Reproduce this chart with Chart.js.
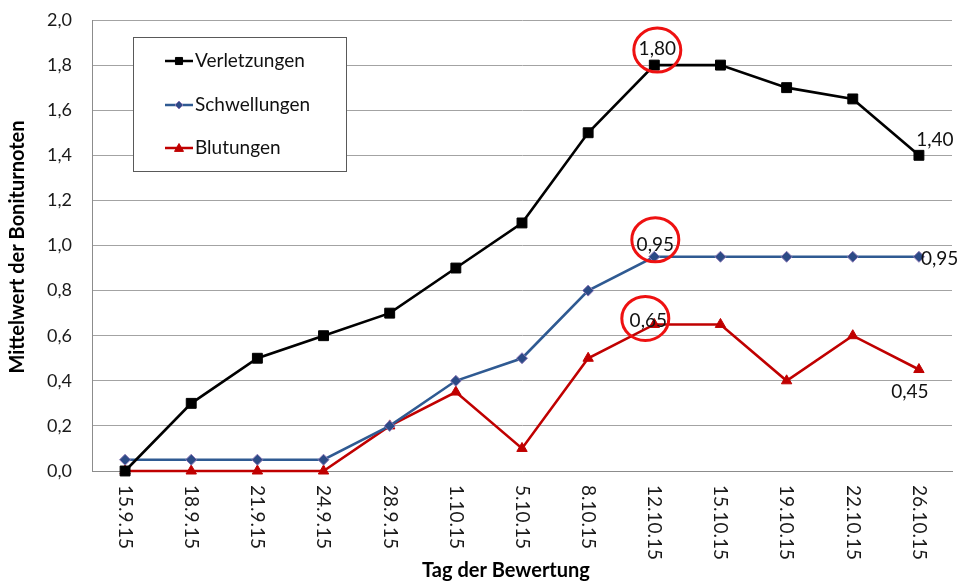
<!DOCTYPE html>
<html>
<head>
<meta charset="utf-8">
<style>
  html, body { margin: 0; padding: 0; background: #fff; }
  #wrap { width: 960px; height: 581px; }
</style>
<script src="https://cdn.jsdelivr.net/npm/chart.js@4.4.1/dist/chart.umd.min.js"></script>
</head>
<body>
<div id="wrap"><canvas id="c" width="960" height="581"></canvas></div>
<script>
// Bewertungstage
const dates = ['15.9.15', '18.9.15', '21.9.15', '24.9.15', '28.9.15', '1.10.15', '5.10.15',
               '8.10.15', '12.10.15', '15.10.15', '19.10.15', '22.10.15', '26.10.15'];

// Mittelwerte der Boniturnoten je Merkmal
const verletzungen = [0.00, 0.30, 0.50, 0.60, 0.70, 0.90, 1.10, 1.50, 1.80, 1.80, 1.70, 1.65, 1.40];
const schwellungen = [0.05, 0.05, 0.05, 0.05, 0.20, 0.40, 0.50, 0.80, 0.95, 0.95, 0.95, 0.95, 0.95];
const blutungen    = [0.00, 0.00, 0.00, 0.00, 0.20, 0.35, 0.10, 0.50, 0.65, 0.65, 0.40, 0.60, 0.45];

// y-Achse
const yMin = 0, yMax = 2.0, yStep = 0.2;

// Werte mit Beschriftung: [Datensatz, Index]
const labelled = [[0, 8], [0, 12], [1, 8], [1, 12], [2, 8], [2, 12]];
// hervorgehobene Werte (rot umkreist)
const circled = [[0, 8], [1, 8], [2, 8]];

const FONT = 'Lato, "Open Sans", "DejaVu Sans", sans-serif';
const fmt = v => v.toFixed(2).replace('.', ',');

// Lage der Wertebeschriftung relativ zum Punkt
const labelOffset = {
  '0-8':  { dx: 3,   dy: -16, align: 'center' },
  '0-12': { dx: 16,  dy: -15, align: 'center' },
  '1-8':  { dx: 1,   dy: -12, align: 'center' },
  '1-12': { dx: 2,   dy: 2,   align: 'left' },
  '2-8':  { dx: -6,  dy: -4,  align: 'center' },
  '2-12': { dx: -9,  dy: 22,  align: 'center' }
};
const circleOffset = {
  '0-8': { dx: 3,  dy: -15 },
  '1-8': { dx: 1,  dy: -17 },
  '2-8': { dx: -9, dy: -6 }
};

const series = [
  { label: 'Verletzungen', data: verletzungen, color: '#000000', fill: '#000000', border: '#000000',
    pointStyle: 'rect', radius: 7, legendRadius: 5 },
  { label: 'Schwellungen', data: schwellungen, color: '#2f5a92', fill: '#2c4b86', border: '#8b78b6',
    pointStyle: 'rectRot', radius: 5.5, legendRadius: 4 },
  { label: 'Blutungen', data: blutungen, color: '#c00000', fill: '#c00000', border: '#c00000',
    pointStyle: 'triangle', radius: 6, legendRadius: 4.5 }
];

function drawMarker(ctx, style, x, y, r) {
  ctx.beginPath();
  if (style === 'rect') {
    const s = r * Math.SQRT1_2;
    ctx.rect(x - s, y - s, 2 * s, 2 * s);
  } else if (style === 'rectRot') {
    ctx.moveTo(x, y - r); ctx.lineTo(x + r, y); ctx.lineTo(x, y + r); ctx.lineTo(x - r, y);
    ctx.closePath();
  } else {
    ctx.moveTo(x, y - r); ctx.lineTo(x + r, y + r * 0.75); ctx.lineTo(x - r, y + r * 0.75);
    ctx.closePath();
  }
}

const decorations = {
  id: 'decorations',
  afterDraw(chart) {
    const ctx = chart.ctx;
    const area = chart.chartArea;
    const xs = chart.scales.x;

    // Datumsbeschriftung, von oben nach unten gelesen
    ctx.save();
    ctx.fillStyle = '#1a1a1a';
    ctx.font = '19px ' + FONT;
    ctx.textAlign = 'left';
    ctx.textBaseline = 'middle';
    dates.forEach((d, i) => {
      const x = xs.getPixelForTick(i);
      ctx.save();
      ctx.translate(x, area.bottom + 14);
      ctx.rotate(Math.PI / 2);
      ctx.fillText(d, 0, 0);
      ctx.restore();
    });
    ctx.restore();

    // Achsentitel
    ctx.save();
    ctx.fillStyle = '#000';
    ctx.font = 'bold 20px ' + FONT;
    ctx.textAlign = 'center';
    ctx.textBaseline = 'middle';
    ctx.fillText('Tag der Bewertung', 506, 571);
    ctx.translate(18, 247);
    ctx.rotate(-Math.PI / 2);
    ctx.fillText('Mittelwert der Boniturnoten', 0, 0);
    ctx.restore();

    // Wertebeschriftungen
    ctx.save();
    ctx.fillStyle = '#111';
    ctx.font = '19px ' + FONT;
    ctx.textBaseline = 'middle';
    labelled.forEach(([ds, i]) => {
      const pt = chart.getDatasetMeta(ds).data[i];
      const o = labelOffset[ds + '-' + i];
      ctx.textAlign = o.align;
      ctx.fillText(fmt(series[ds].data[i]), pt.x + o.dx, pt.y + o.dy);
    });
    ctx.restore();

    // rote Kreise
    ctx.save();
    ctx.strokeStyle = '#ee1111';
    ctx.lineWidth = 3;
    circled.forEach(([ds, i]) => {
      const pt = chart.getDatasetMeta(ds).data[i];
      const o = circleOffset[ds + '-' + i];
      ctx.beginPath();
      ctx.ellipse(pt.x + o.dx, pt.y + o.dy, 23.5, 22, 0, 0, Math.PI * 2);
      ctx.stroke();
    });
    ctx.restore();

    // Legende
    ctx.save();
    const bx = 133.5, by = 37.5, bw = 213, bh = 134;
    ctx.fillStyle = '#fff';
    ctx.fillRect(bx, by, bw, bh);
    ctx.strokeStyle = '#595959';
    ctx.lineWidth = 1;
    ctx.strokeRect(bx, by, bw, bh);
    const rows = [61, 105, 148];
    series.forEach((s, k) => {
      const y = rows[k];
      ctx.strokeStyle = s.color;
      ctx.lineWidth = 2.5;
      ctx.beginPath();
      ctx.moveTo(165, y); ctx.lineTo(193, y);
      ctx.stroke();
      ctx.fillStyle = s.fill;
      ctx.strokeStyle = s.border;
      ctx.lineWidth = 1;
      drawMarker(ctx, s.pointStyle, 179, y, s.legendRadius);
      ctx.fill();
      ctx.stroke();
      ctx.fillStyle = '#111';
      ctx.font = '19px ' + FONT;
      ctx.textAlign = 'left';
      ctx.textBaseline = 'middle';
      ctx.fillText(s.label, 195, y);
    });
    ctx.restore();
  }
};

new Chart(document.getElementById('c'), {
  type: 'line',
  data: {
    labels: dates,
    datasets: series.map(s => ({
      label: s.label,
      data: s.data,
      borderColor: s.color,
      backgroundColor: s.fill,
      borderWidth: 2.6,
      pointStyle: s.pointStyle,
      pointRadius: s.radius,
      pointHoverRadius: s.radius,
      pointBackgroundColor: s.fill,
      pointBorderColor: s.border,
      pointBorderWidth: 1,
      tension: 0,
      fill: false,
      clip: false
    }))
  },
  options: {
    responsive: false,
    animation: false,
    events: [],
    layout: { padding: { top: 20, right: 8, bottom: 0, left: 0 } },
    plugins: { legend: { display: false }, tooltip: { enabled: false } },
    scales: {
      x: {
        type: 'category',
        offset: true,
        grid: { display: false, drawTicks: false },
        border: { display: true, color: '#8c8c8c', width: 1 },
        ticks: { display: false },
        afterFit(scale) {
          scale.height = 110;
          scale.paddingLeft = 0; scale.paddingRight = 0;
        }
      },
      y: {
        min: yMin,
        max: yMax,
        grid: { color: '#a3a3a3', lineWidth: 1, drawTicks: false },
        border: { display: true, color: '#8c8c8c', width: 1 },
        ticks: {
          stepSize: yStep,
          padding: 20,
          color: '#1a1a1a',
          font: { family: FONT, size: 18 },
          callback: v => v.toFixed(1).replace('.', ',')
        },
        afterFit(scale) {
          scale.width = 92;
          scale.paddingTop = 0; scale.paddingBottom = 0;
        }
      }
    }
  },
  plugins: [decorations]
});
</script>
</body>
</html>
